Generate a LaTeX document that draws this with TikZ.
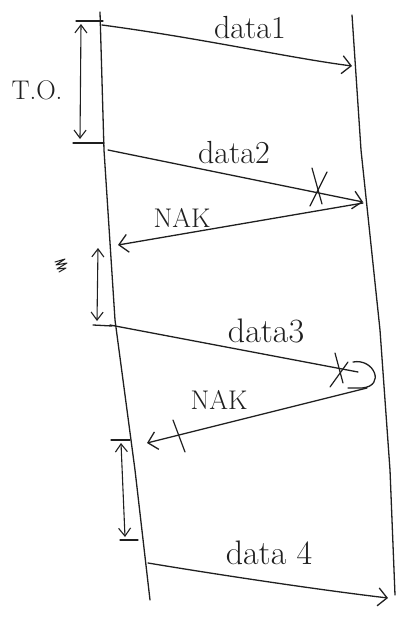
\documentclass[tikz,border=0pt]{standalone}
\usepackage{fontspec}
\usetikzlibrary{arrows.meta}
\begin{document}
\begin{tikzpicture}[x=1pt,y=-1pt,
  ink/.style={draw=black!88, line width=1.3pt, line cap=round, line join=round},
  msg/.style={ink, -{Straight Barb[length=9pt,width=18pt,line width=1.3pt]}},
  span/.style={ink, line width=1.1pt, {Straight Barb[length=8pt,width=12pt]}-{Straight Barb[length=8pt,width=12pt]}},
  lbl/.style={font=\fontsize{32}{34}\selectfont, text=black!88, inner sep=1pt},
  blbl/.style={lbl, font=\fontsize{34}{36}\selectfont},
  slbl/.style={lbl, font=\fontsize{27}{29}\selectfont},
  xmark/.style={ink, line width=1.2pt}]
\useasboundingbox (0,0) rectangle (405,619);
% lifelines
\coordinate (L0) at (100,12); \coordinate (L1) at (104,150); \coordinate (L2) at (115,320);
\coordinate (L3) at (135,470); \coordinate (L4) at (150,600);
\coordinate (R0) at (352,15); \coordinate (R1) at (361,150); \coordinate (R2) at (380,330);
\coordinate (R3) at (390,470); \coordinate (R4) at (395,595);
\draw[ink] (L0) -- (L1) -- (L2) -- (L3) -- (L4);
\draw[ink] (R0) -- (R1) -- (R2) -- (R3) -- (R4);
% message end points
\coordinate (d1s) at (102,25);  \coordinate (d1e) at (352,66);
\coordinate (d2s) at (108,150); \coordinate (d2e) at (363,202);
\coordinate (n1s) at (363,203); \coordinate (n1e) at (118,245);
\coordinate (d3s) at (110,325); \coordinate (d3e) at (358,372);
\coordinate (n2s) at (367,388); \coordinate (n2e) at (147,443);
\coordinate (d4s) at (148,563); \coordinate (d4e) at (388,598);
% messages
\draw[msg] (d1s) .. controls (200,38) and (290,58) .. (d1e);
\draw[msg] (d2s) -- (d2e);
\draw[msg] (n1s) -- (n1e);
\draw[ink] (d3s) -- (d3e);
\draw[ink] (353,362) .. controls (374,358) and (386,386) .. (362,388) -- (348,388);
\draw[msg] (n2s) -- (n2e);
\draw[msg] (d4s) .. controls (220,575) and (320,590) .. (d4e);
% loss marks
\coordinate (x1) at (318,190); \coordinate (x2) at (340,370); \coordinate (x3) at (178,437);
\draw[xmark] ([shift={(-6,-22)}]x1) -- ([shift={(4,14)}]x1);
\draw[xmark] ([shift={(-8,16)}]x1) -- ([shift={(9,-18)}]x1);
\draw[xmark] ([shift={(-5,-17)}]x2) -- ([shift={(3,13)}]x2);
\draw[xmark] ([shift={(-10,17)}]x2) -- ([shift={(8,-8)}]x2);
\draw[xmark] ([shift={(-5,-17)}]x3) -- ([shift={(7,15)}]x3);
% labels
\node[lbl] (t1) at (250,28) {data1};
\node[lbl] (t2) at (234,153) {data2};
\node[slbl] (t3) at (182,218) {NAK};
\node[blbl] (t4) at (266,331) {data3};
\node[slbl] (t5) at (219,400) {NAK};
\node[blbl] (t6) at (269,553) {data 4};
\node[slbl] (to) at (37,90) {T.O.};
% timeout brackets
\coordinate (a1) at (76,21);  \coordinate (a2) at (103,21);
\coordinate (b1) at (73,143); \coordinate (b2) at (104,143);
\draw[ink] (a1) -- (a2); \draw[ink] (b1) -- (b2);
\coordinate (s1t) at (81,24); \coordinate (s1b) at (80,139);
\draw[span] (s1t) -- (s1b);
\coordinate (c1) at (93,325); \coordinate (c2) at (112,326);
\draw[ink] (c1) -- (c2);
\coordinate (s2t) at (98,248); \coordinate (s2b) at (97,321);
\draw[span] (s2t) -- (s2b);
\coordinate (e1) at (111,440); \coordinate (e2) at (130,440);
\coordinate (f1) at (120,540); \coordinate (f2) at (138,540);
\draw[ink] (e1) -- (e2); \draw[ink] (f1) -- (f2);
\coordinate (s3t) at (121,443); \coordinate (s3b) at (125,537);
\draw[span] (s3t) -- (s3b);
% scribble mark
\coordinate (sc) at (61,265);
\draw[ink, line width=1pt] ([shift={(-6,-3)}]sc) -- ([shift={(4,-6)}]sc) -- ([shift={(-5,0)}]sc) -- ([shift={(6,-2)}]sc) -- ([shift={(-4,4)}]sc) -- ([shift={(5,3)}]sc) -- ([shift={(-2,7)}]sc);
\end{tikzpicture}
\end{document}
